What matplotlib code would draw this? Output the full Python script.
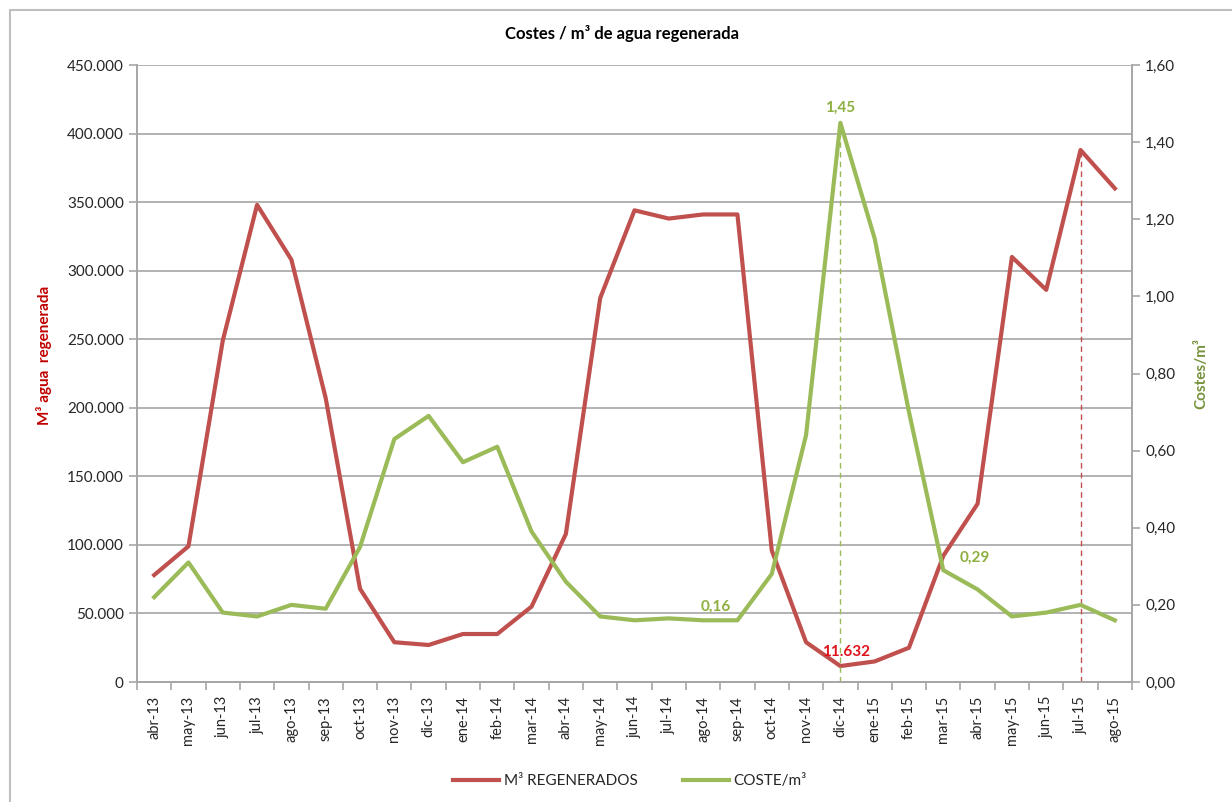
import matplotlib.pyplot as plt
from matplotlib.patches import Rectangle
from matplotlib.ticker import FuncFormatter, FixedLocator, NullFormatter
import numpy as np

plt.rcParams["font.family"] = ["Lato", "DejaVu Sans"]

meses = ["abr-13", "may-13", "jun-13", "jul-13", "ago-13", "sep-13", "oct-13",
         "nov-13", "dic-13", "ene-14", "feb-14", "mar-14", "abr-14", "may-14",
         "jun-14", "jul-14", "ago-14", "sep-14", "oct-14", "nov-14", "dic-14",
         "ene-15", "feb-15", "mar-15", "abr-15", "may-15", "jun-15", "jul-15",
         "ago-15"]
m3_regenerados = [78000, 99000, 249000, 348000, 308000, 207000, 68000,
                  29000, 27000, 35000, 35000, 55000, 108000, 280000,
                  344000, 338000, 341000, 341000, 96000, 29000, 11632,
                  15000, 25000, 92000, 130000, 310000, 286000, 388000,
                  360000]
coste_m3 = [0.22, 0.31, 0.18, 0.17, 0.20, 0.19, 0.35,
            0.63, 0.69, 0.57, 0.61, 0.39, 0.26, 0.17,
            0.16, 0.165, 0.16, 0.16, 0.28, 0.64, 1.45,
            1.15, 0.70, 0.29, 0.24, 0.17, 0.18, 0.20,
            0.16]

ROJO = "#C0504D"
VERDE = "#9BBB59"
GRIS = "#A6A6A6"
TXT = "#262626"

fig = plt.figure(figsize=(12.32, 8.02), dpi=100)
fig.patches.append(Rectangle((10 / 1232, -0.05), 1.2, 1 - 10 / 802 + 0.05,
                             transform=fig.transFigure, fill=False,
                             edgecolor="#BFBFBF", linewidth=1.5))

ax = fig.add_axes([137 / 1232, 1 - 682 / 802, 995 / 1232, 617 / 802])
ax2 = ax.twinx()

x = np.arange(len(meses))
ax.plot(x, m3_regenerados, color=ROJO, linewidth=3, label="M³ REGENERADOS", zorder=3)
ax2.plot(x, coste_m3, color=VERDE, linewidth=3, label="COSTE/m³", zorder=3)

ax.set_xlim(-0.5, len(meses) - 0.5)
ax.set_ylim(0, 450000)
ax2.set_ylim(0, 1.6)
ax.set_yticks(np.arange(0, 450001, 50000))
ax2.set_yticks(np.arange(0, 1.61, 0.2))
ax.yaxis.set_major_formatter(FuncFormatter(lambda v, p: f"{int(v):,}".replace(",", ".")))
ax2.yaxis.set_major_formatter(FuncFormatter(lambda v, p: f"{v:.2f}".replace(".", ",")))

ax.grid(axis="y", color=GRIS, linewidth=1.2)
ax.set_axisbelow(True)

# ticks en los limites de cada categoria, etiquetas centradas
ax.xaxis.set_major_locator(FixedLocator(np.arange(-0.5, len(meses), 1)))
ax.xaxis.set_major_formatter(NullFormatter())
ax.xaxis.set_minor_locator(FixedLocator(x))
ax.set_xticklabels(meses, minor=True, rotation=90, fontsize=10.5, color=TXT)
ax.tick_params(axis="x", which="minor", length=0, pad=10)
ax.tick_params(axis="x", which="major", length=6, color=GRIS, width=1.2)
ax.tick_params(axis="y", length=6, color=GRIS, width=1.2, labelsize=11, labelcolor=TXT)
ax2.tick_params(axis="y", length=6, color=GRIS, width=1.2, labelsize=11, labelcolor=TXT)

for a in (ax, ax2):
    a.spines["top"].set_visible(False)
    for s in ("left", "right", "bottom"):
        a.spines[s].set_color(GRIS)
        a.spines[s].set_linewidth(1.2)

ax.set_ylabel("M³ agua  regenerada", color="#C00000", fontsize=11, fontweight="bold")
ax.yaxis.set_label_coords(-0.085, 0.53)
ax2.set_ylabel("Costes/m³", color="#77933C", fontsize=11, fontweight="bold", labelpad=14)

# lineas de caida y etiquetas de datos
i_max = coste_m3.index(max(coste_m3))
ax2.vlines(i_max, 0, coste_m3[i_max], colors=VERDE, linestyles=(0, (4, 3)), linewidth=1)
i_r = m3_regenerados.index(max(m3_regenerados))
ax.vlines(i_r, 0, m3_regenerados[i_r], colors=ROJO, linestyles=(0, (4, 3)), linewidth=1)

ax2.annotate("1,45", (i_max, coste_m3[i_max]), xytext=(0, 6), textcoords="offset points",
             ha="center", va="bottom", color="#8DAF3F", fontsize=11, fontweight="bold")
ax2.annotate("0,16", (16, coste_m3[16]), xytext=(9, 5), textcoords="offset points",
             ha="center", va="bottom", color="#8DAF3F", fontsize=11, fontweight="bold")
ax2.annotate("0,29", (23, coste_m3[23]), xytext=(12, 4), textcoords="offset points",
             ha="left", va="bottom", color="#8DAF3F", fontsize=11, fontweight="bold")
ax.annotate("11.632", (20, m3_regenerados[20]), xytext=(4, 5), textcoords="offset points",
            ha="center", va="bottom", color="#E0121B", fontsize=11, fontweight="bold")

fig.text(622 / 1232, 1 - 33 / 802, "Costes / m³ de agua regenerada", ha="center", va="center",
         fontsize=12, fontweight="bold", color="black")

h1, l1 = ax.get_legend_handles_labels()
h2, l2 = ax2.get_legend_handles_labels()
fig.legend(h1 + h2, l1 + l2, loc="center", bbox_to_anchor=(630 / 1232, 1 - 781 / 802),
           ncol=2, frameon=False, fontsize=11, handlelength=3, columnspacing=3,
           handletextpad=0.3, labelcolor=TXT)

fig.savefig("out.png", dpi=100)
